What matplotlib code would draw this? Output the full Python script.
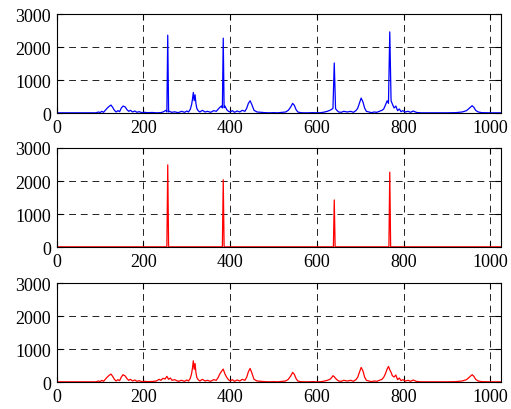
import matplotlib
matplotlib.use("Agg")
import matplotlib.pyplot as plt

plt.rcParams['font.family'] = ['Liberation Serif', 'DejaVu Serif']

# spectrum before filtering (blue)
blue_x = [0, 90, 97, 100, 104, 108, 112, 116, 120, 125, 129, 133, 137, 141, 145,
          149, 153, 158, 162, 166, 170, 175, 180, 185, 190, 196, 202, 210, 220,
          230, 240, 245, 248, 252, 254, 256, 258, 260, 265, 272, 280, 288, 295,
          300, 304, 308, 311, 313, 315, 317, 319, 321, 323, 326, 330, 336, 342,
          348, 355, 362, 368, 372, 376, 380, 382, 384, 386, 388, 392, 396, 400,
          405, 410, 416, 422, 428, 434, 438, 442, 446, 450, 455, 462, 470, 480,
          490, 500, 510, 520, 528, 534, 540, 544, 548, 552, 556, 562, 570, 580,
          590, 600, 610, 618, 624, 630, 634, 637, 640, 643, 646, 650, 656, 662,
          670, 678, 684, 690, 694, 698, 702, 706, 710, 714, 720, 726, 732, 738,
          744, 750, 754, 758, 762, 765, 768, 771, 774, 778, 782, 786, 790, 794,
          798, 804, 810, 816, 822, 830, 840, 860, 880, 900, 920, 935, 945, 952,
          958, 962, 966, 972, 980, 1000, 1024]
blue_y = [15, 15, 40, 20, 60, 30, 90, 150, 200, 250, 180, 90, 40, 80, 50,
          160, 220, 190, 110, 60, 90, 40, 70, 30, 50, 20, 30, 20, 25,
          15, 20, 40, 60, 90, 40, 2360, 40, 60, 30, 45, 20, 60, 30,
          70, 40, 120, 260, 420, 630, 380, 560, 300, 150, 80, 40, 90, 40,
          60, 30, 80, 60, 120, 180, 220, 160, 2270, 170, 220, 110, 60, 40,
          80, 30, 70, 40, 90, 60, 150, 300, 380, 260, 90, 40, 30, 20,
          15, 20, 15, 30, 40, 90, 200, 300, 240, 110, 40, 20, 15, 15,
          20, 15, 20, 40, 60, 90, 120, 150, 1520, 140, 90, 40, 30, 60,
          40, 60, 30, 80, 150, 300, 460, 350, 160, 60, 40, 20, 40, 30,
          60, 90, 130, 250, 380, 300, 2460, 380, 280, 160, 220, 80, 130, 50,
          80, 40, 60, 30, 70, 25, 15, 15, 15, 15, 20, 40, 80, 160,
          230, 180, 90, 40, 20, 15, 15]

# spikes kept by the filter (middle, red)
spike_x = [0, 254, 256, 258, 382, 384, 386, 638, 640, 642, 766, 768, 770, 1024]
spike_y = [15, 15, 2490, 15, 15, 2040, 15, 15, 1430, 15, 15, 2270, 15, 15]

# residual spectrum (bottom, red)
resid_x = [0, 90, 97, 100, 104, 108, 112, 116, 120, 125, 129, 133, 137, 141, 145,
           149, 153, 158, 162, 166, 170, 175, 180, 185, 190, 196, 202, 210, 220,
           230, 236, 240, 245, 250, 254, 258, 262, 266, 272, 280, 288, 295,
           300, 304, 308, 311, 313, 315, 317, 319, 321, 323, 326, 330, 336, 342,
           348, 355, 362, 368, 372, 376, 380, 384, 388, 392, 396, 400,
           405, 410, 416, 422, 428, 434, 438, 442, 446, 450, 455, 462, 470, 480,
           490, 500, 510, 520, 528, 534, 540, 544, 548, 552, 556, 562, 570, 580,
           590, 600, 610, 618, 624, 630, 634, 637, 640, 643, 646, 650, 656, 662,
           670, 678, 684, 690, 694, 698, 702, 706, 710, 714, 720, 726, 732, 738,
           744, 750, 754, 758, 762, 765, 768, 771, 774, 778, 782, 786, 790, 794,
           798, 804, 810, 816, 822, 830, 840, 860, 880, 900, 920, 935, 945, 952,
           958, 962, 966, 972, 980, 1000, 1024]
resid_y = [15, 15, 40, 20, 60, 30, 90, 150, 200, 250, 180, 90, 40, 80, 50,
           160, 230, 190, 110, 60, 90, 40, 70, 30, 50, 20, 30, 20, 25,
           40, 90, 60, 120, 100, 180, 90, 130, 60, 80, 30, 60, 30,
           70, 40, 120, 260, 430, 650, 390, 570, 300, 150, 80, 40, 90, 40,
           60, 30, 80, 60, 140, 250, 330, 400, 250, 150, 80, 40,
           80, 30, 70, 40, 90, 60, 150, 320, 420, 280, 90, 40, 30, 20,
           15, 20, 15, 30, 40, 90, 200, 300, 240, 110, 40, 20, 15, 15,
           20, 15, 20, 40, 60, 90, 140, 200, 170, 120, 80, 40, 30, 60,
           40, 60, 30, 80, 150, 300, 450, 350, 160, 60, 40, 20, 40, 30,
           60, 90, 150, 260, 400, 480, 380, 300, 200, 160, 220, 80, 130, 50,
           80, 40, 60, 30, 70, 25, 15, 15, 15, 15, 20, 40, 80, 160,
           230, 180, 90, 40, 20, 15, 15]

series = [(blue_x, blue_y, 'blue'), (spike_x, spike_y, 'red'), (resid_x, resid_y, 'red')]
x_ticks = [0, 200, 400, 600, 800, 1000]
y_ticks = [0, 1000, 2000, 3000]

fig = plt.figure(figsize=(5.11, 4.10), dpi=100)
bottoms = [0.7212, 0.3944, 0.0651]

for (xs, ys, color), b in zip(series, bottoms):
    ax = fig.add_axes([0.111, b, 0.869, 0.2422])
    ax.plot(xs, ys, color=color, lw=0.9)
    ax.set_xlim(0, 1024)
    ax.set_ylim(0, 3000)
    ax.set_xticks(x_ticks)
    ax.set_yticks(y_ticks)
    ax.grid(True, color='#222222', linestyle=(0, (7, 5)), lw=0.7)
    ax.tick_params(direction='in', top=True, right=True, length=4, labelsize=13)
    ax.tick_params(axis='x', pad=4)
    ax.tick_params(axis='y', pad=4)
    for s in ax.spines.values():
        s.set_linewidth(0.8)

fig.savefig('out.png', dpi=100)
